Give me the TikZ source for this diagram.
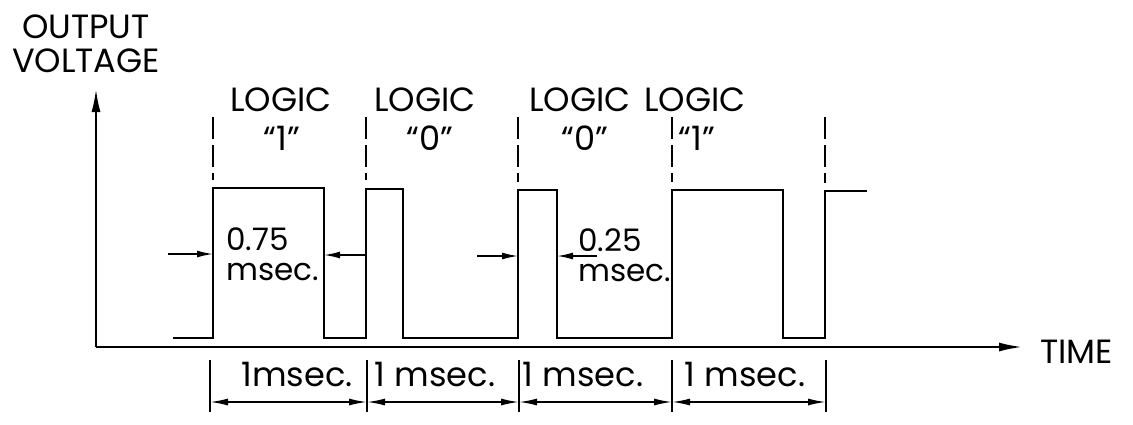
\documentclass[tikz,border=0pt]{standalone}
\usepackage{fontspec}
\setmainfont{Poppins}
\usetikzlibrary{arrows.meta}
\tikzset{
  wave/.style={line width=1.3pt},
  axis/.style={line width=1.3pt,-{Latex[length=12pt,width=4.5pt]}},
  sep/.style={line width=0.8pt,dash pattern=on 11pt off 3pt},
  dim/.style={line width=0.8pt,-{Latex[length=8pt,width=3.5pt]}},
  span/.style={line width=0.8pt,{Latex[length=9pt,width=3.5pt]}-{Latex[length=9pt,width=3.5pt]}},
  lbl/.style={font=\fontsize{16.8}{17}\selectfont,inner sep=0pt},
  wlbl/.style={font=\fontsize{15.5}{15}\selectfont,inner sep=0pt,anchor=west,align=left},
}
\begin{document}
\begin{tikzpicture}[x=0.5pt,y=-0.5pt]
\useasboundingbox (0,0) rectangle (1133,424);

% axes
\coordinate (origin) at (96,347);
\coordinate (ytop) at (96,88);
\coordinate (xend) at (1023,347);
\draw[axis] (origin) -- (ytop);
\draw[axis] (origin) -- (xend);
\node[lbl,align=center] (ylabel) at (86,44) {OUTPUT\\VOLTAGE};
\node[lbl,anchor=west] (tlabel) at (1040,352) {TIME};

% pulse train
\draw[wave] (173,338) -- (213,338) -- (213,188) -- (324,188) -- (324,338)
  -- (366,338) -- (366,189) -- (403,189) -- (403,338) -- (518,338)
  -- (518,190) -- (557,190) -- (557,338) -- (672,338) -- (672,190)
  -- (783,190) -- (783,338) -- (825,338) -- (825,191) -- (867,191);

% bit boundaries
\draw[sep] (213,117) -- (213,180);
\draw[sep] (366,117) -- (366,180);
\draw[sep] (518,117) -- (518,182);
\draw[sep] (672,117) -- (672,182);
\draw[sep] (825,117) -- (825,183);

\node[lbl] (logicA) at (281,100) {LOGIC};
\node[lbl] (bitA) at (282,138) {“1”};
\node[lbl] (logicB) at (425,100) {LOGIC};
\node[lbl] (bitB) at (430,138) {“0”};
\node[lbl] (logicC) at (580,100) {LOGIC};
\node[lbl] (bitC) at (585,138) {“0”};
\node[lbl] (logicD) at (695,100) {LOGIC};
\node[lbl] (bitD) at (697,138) {“1”};

% pulse widths
\node[wlbl] (wideA) at (226,254) {0.75\\msec.};
\draw[dim] (168,254) -- (213,254);
\draw[dim] (366,255) -- (324,255);
\node[wlbl] (wideB) at (578,255) {0.25\\msec.};
\draw[dim] (477,256) -- (518,256);
\draw[dim] (597,256) -- (557,256);

% bit periods
\coordinate (t0) at (210,402);
\coordinate (t1) at (367,402);
\coordinate (t2) at (519,402);
\coordinate (t3) at (672,402);
\coordinate (t4) at (826,402);
\draw[line width=0.8pt] (210,360) -- (210,412);
\draw[line width=0.8pt] (367,360) -- (367,412);
\draw[line width=0.8pt] (519,360) -- (519,412);
\draw[line width=0.8pt] (672,360) -- (672,412);
\draw[line width=0.8pt] (826,360) -- (826,412);
\draw[span] (t0) -- (t1);
\draw[span] (t1) -- (t2);
\draw[span] (t2) -- (t3);
\draw[span] (t3) -- (t4);
\node[lbl] (perA) at (297,374) {1msec.};
\node[lbl] (perB) at (435,374) {1 msec.};
\node[lbl] (perC) at (583,374) {1 msec.};
\node[lbl] (perD) at (745,374) {1 msec.};
\end{tikzpicture}
\end{document}
